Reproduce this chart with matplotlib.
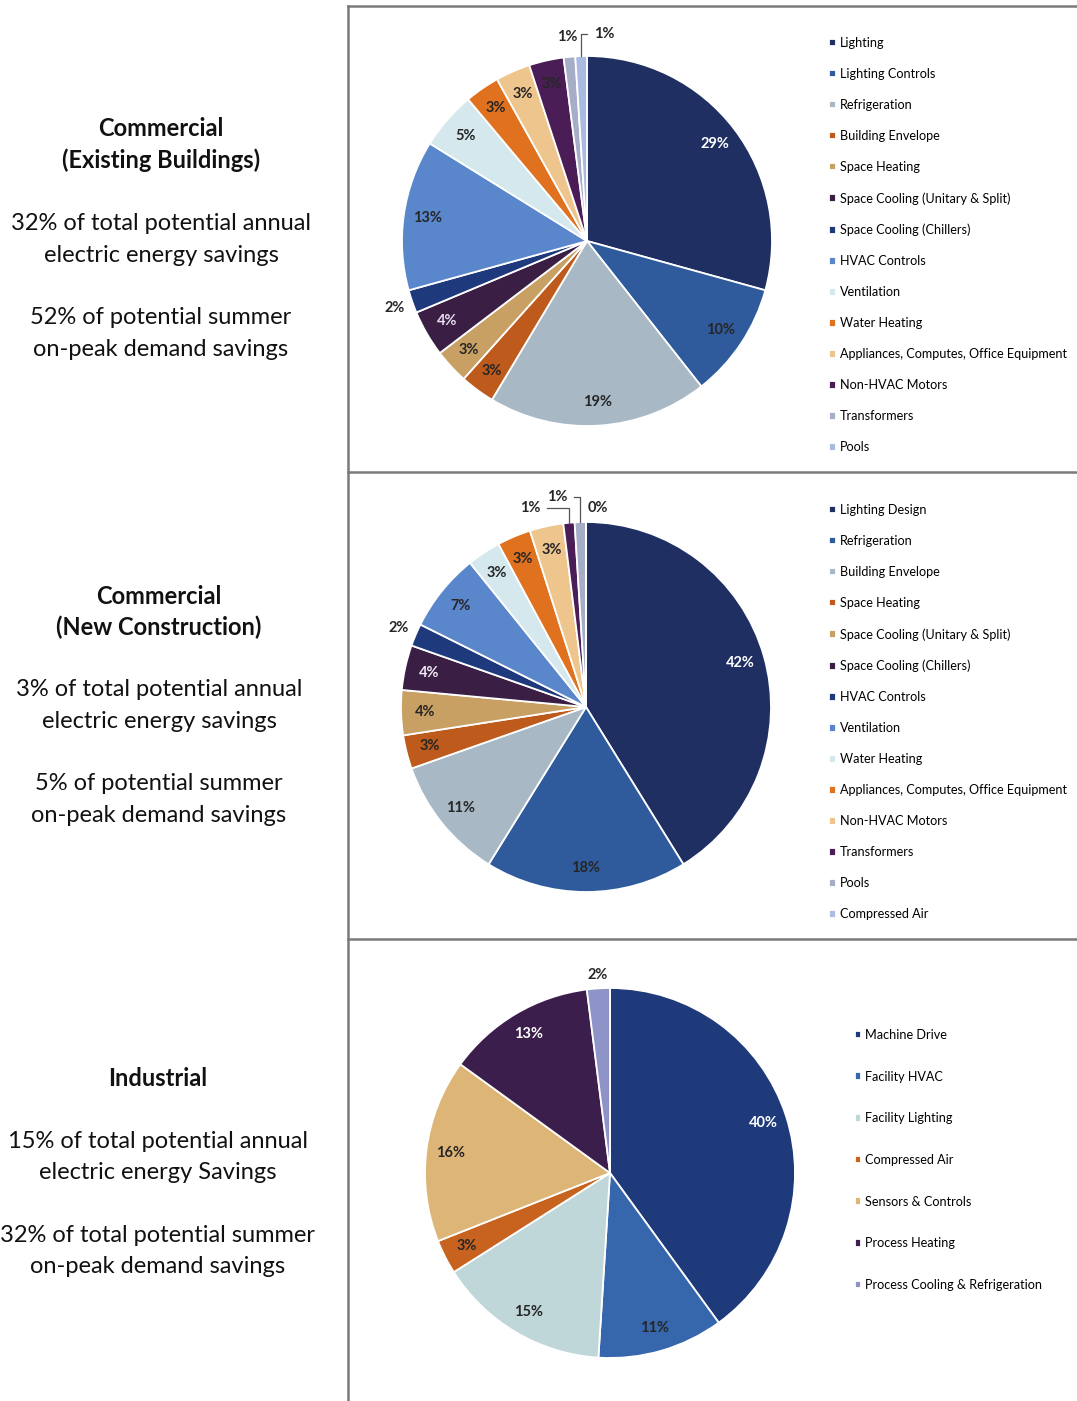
import numpy as np
import matplotlib
matplotlib.use("Agg")
import matplotlib.pyplot as plt

plt.rcParams['font.family'] = ['Lato', 'DejaVu Sans']

# ---------------- data ----------------
existing_cats = ["Lighting", "Lighting Controls", "Refrigeration", "Building Envelope",
                 "Space Heating", "Space Cooling (Unitary & Split)", "Space Cooling (Chillers)",
                 "HVAC Controls", "Ventilation", "Water Heating",
                 "Appliances, Computes, Office Equipment", "Non-HVAC Motors",
                 "Transformers", "Pools"]
existing_vals = [29, 10, 19, 3, 3, 4, 2, 13, 5, 3, 3, 3, 1, 1]

newcon_cats = ["Lighting Design", "Refrigeration", "Building Envelope", "Space Heating",
               "Space Cooling (Unitary & Split)", "Space Cooling (Chillers)", "HVAC Controls",
               "Ventilation", "Water Heating", "Appliances, Computes, Office Equipment",
               "Non-HVAC Motors", "Transformers", "Pools", "Compressed Air"]
newcon_vals = [42, 18, 11, 3, 4, 4, 2, 7, 3, 3, 3, 1, 1, 0]

industrial_cats = ["Machine Drive", "Facility HVAC", "Facility Lighting", "Compressed Air",
                   "Sensors & Controls", "Process Heating", "Process Cooling & Refrigeration"]
industrial_vals = [40, 11, 15, 3, 16, 13, 2]

left_texts = [
    (["Commercial", "(Existing Buildings)"],
     ["32% of total potential annual", "electric energy savings"],
     ["52% of potential summer", "on-peak demand savings"]),
    (["Commercial", "(New Construction)"],
     ["3% of total potential annual", "electric energy savings"],
     ["5% of potential summer", "on-peak demand savings"]),
    (["Industrial"],
     ["15% of total potential annual", "electric energy Savings"],
     ["32% of total potential summer", "on-peak demand savings"]),
]

# ---------------- style ----------------
W, H = 1077, 1401
comm_colors = ['#1F2F62', '#2F5B9C', '#A8B8C5', '#BD5A1C', '#C9A064', '#3A1E44',
               '#1F3A7C', '#5A86CC', '#D4E8EE', '#E0711E', '#EEC58D', '#4A1D56',
               '#A6AEC7', '#A9BBE0']
new_colors = comm_colors[:13] + ['#AEBDE3']
ind_colors = ['#1F3A7A', '#3667AC', '#C0D7D9', '#C8631F', '#DDB577', '#3C1E4D', '#8E94C8']

DARK = '#262626'
WHITE = '#FFFFFF'
exist_lab_col = [WHITE, DARK, DARK, DARK, DARK, '#E6DDF0', DARK, DARK, DARK, DARK, DARK, DARK, DARK, DARK]
new_lab_col = [WHITE, DARK, DARK, DARK, DARK, '#F0E8F5', DARK, DARK, DARK, DARK, DARK, DARK, DARK, DARK]
ind_lab_col = [WHITE, DARK, DARK, DARK, DARK, WHITE, DARK]

# label placement style: index -> (radius, angle offset in degrees, leader)
exist_out = {6: (1.10, 0, False), 12: (1.11, 0, False), 13: (1.12, -6.5, True)}
new_out = {6: (1.10, 0, False), 11: (1.12, 10.4, True), 12: (1.145, 6.1, True), 13: (1.075, -3.5, False)}
ind_out = {6: (1.07, 0, False)}

R = 185
pies = [
    dict(vals=existing_vals, cats=existing_cats, colors=comm_colors, labcol=exist_lab_col,
         out=exist_out, c=(587, 241), leg=(829, 37), legsp=1.505,
         tx=161, ty=(129, 224, 318)),
    dict(vals=newcon_vals, cats=newcon_cats, colors=new_colors, labcol=new_lab_col,
         out=new_out, c=(586, 707), leg=(829, 504), legsp=1.505,
         tx=159, ty=(596, 690, 784)),
    dict(vals=industrial_vals, cats=industrial_cats, colors=ind_colors, labcol=ind_lab_col,
         out=ind_out, c=(610, 1173), leg=(854.5, 1029), legsp=2.345,
         tx=158, ty=(1078, 1141, 1235)),
]

fig = plt.figure(figsize=(W / 100, H / 100), dpi=100)
bg = fig.add_axes([0, 0, 1, 1])
bg.set_xlim(0, W)
bg.set_ylim(H, 0)
bg.axis('off')

# panel frame lines
lc = '#7a7a7a'
bg.plot([348, 348], [6, H], color=lc, lw=1.8)
bg.plot([348, W], [6, 6], color=lc, lw=1.8)
bg.plot([348, W], [472, 472], color=lc, lw=1.8)
bg.plot([348, W], [939, 939], color=lc, lw=1.8)

for p in pies:
    cx, cy = p['c']
    ax = fig.add_axes([(cx - R) / W, (H - cy - R) / H, 2 * R / W, 2 * R / H])
    wedges, _ = ax.pie(p['vals'], colors=p['colors'], startangle=90, counterclock=False,
                       radius=1, wedgeprops=dict(edgecolor='white', linewidth=1.3))
    ax.set_xlim(-1, 1)
    ax.set_ylim(-1, 1)
    ax.set_aspect('equal')
    ax.axis('off')
    for i, (w, v) in enumerate(zip(wedges, p['vals'])):
        mid = (w.theta1 + w.theta2) / 2.0
        lab = f"{v:.0f}%"
        if i in p['out']:
            r, dang, leader = p['out'][i]
            a = np.deg2rad(mid + dang)
            lx, ly = r * np.cos(a), r * np.sin(a)
            ax.text(lx, ly, lab, ha='center', va='center', fontsize=10.5, fontweight='bold',
                    color=DARK, clip_on=False)
            if leader:
                am = np.deg2rad(mid)
                x0, y0 = np.cos(am), np.sin(am)
                side = -1 if lx > x0 else 1
                xe = lx + side * 0.09
                ax.plot([x0, x0, xe], [y0, ly, ly], color='#555555', lw=0.9, clip_on=False)
        else:
            a = np.deg2rad(mid)
            ax.text(0.87 * np.cos(a), 0.87 * np.sin(a), lab, ha='center', va='center',
                    fontsize=10.5, fontweight='bold', color=p['labcol'][i])
    lx, ly = p['leg']
    fig.legend(wedges, p['cats'], loc='upper left', bbox_to_anchor=(lx / W, 1 - ly / H),
               frameon=False, fontsize=9.1, handlelength=0.55, handleheight=0.55,
               handletextpad=0.3, labelspacing=p['legsp'], borderpad=0, borderaxespad=0)

# left side text
for p, (head, l1, l2) in zip(pies, left_texts):
    x = p['tx']
    y0, y1, y2 = p['ty']
    for k, t in enumerate(head):
        bg.text(x, y0 + 31 * k, t, ha='center', va='center', fontsize=17, fontweight='bold',
                color='#111111')
    for k, t in enumerate(l1):
        bg.text(x, y1 + 31.5 * k, t, ha='center', va='center', fontsize=17, color='#111111')
    for k, t in enumerate(l2):
        bg.text(x, y2 + 31.5 * k, t, ha='center', va='center', fontsize=17, color='#111111')

fig.savefig('out.png', dpi=100)
